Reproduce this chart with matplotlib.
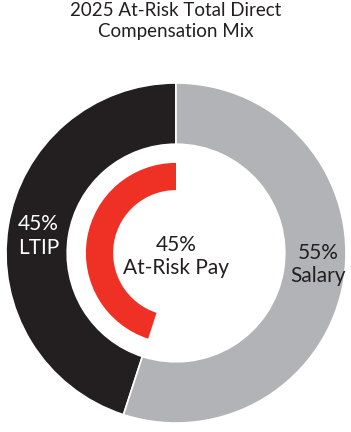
import matplotlib
matplotlib.use('Agg')
import matplotlib.pyplot as plt

# Data
outer_labels = ['LTIP', 'Salary']
outer_values = [45, 55]
outer_colors = ['#231F20', '#B1B3B6']
at_risk_value = 45
title = '2025 At-Risk Total Direct\nCompensation Mix'

plt.rcParams['font.family'] = ['Lato', 'DejaVu Sans']

W, H = 351, 432
fig = plt.figure(figsize=(W / 100, H / 100), dpi=100)

# axes placed so the ring is centred around (176, 253) px, radius 170 px
cx, cy, r = 176, 253, 170
ax = fig.add_axes([(cx - r) / W, (H - cy - r) / H, 2 * r / W, 2 * r / H])
ax.set_xlim(-1, 1)
ax.set_ylim(-1, 1)
ax.set_aspect('equal')
ax.axis('off')

ax.pie(outer_values, radius=1.0, startangle=90, counterclock=True,
       colors=outer_colors,
       wedgeprops=dict(width=0.36, edgecolor='white', linewidth=1.2))

ax.pie([at_risk_value, 100 - at_risk_value], radius=0.53, startangle=90,
       counterclock=True, colors=['#EE3124', 'none'],
       wedgeprops=dict(width=0.16, edgecolor='none'))

ax.set_xlim(-1, 1)
ax.set_ylim(-1, 1)

ax.text(-0.81, 0.10, f'{outer_values[0]}%\n{outer_labels[0]}', color='white',
        ha='center', va='center', fontsize=15, linespacing=1.2)
ax.text(0.835, -0.07, f'{outer_values[1]}%\n{outer_labels[1]}', color='#231F20',
        ha='center', va='center', fontsize=15, linespacing=1.2)
ax.text(0.0, -0.02, f'{at_risk_value}%\nAt-Risk Pay', color='#231F20',
        ha='center', va='center', fontsize=15, linespacing=1.2)

fig.text(cx / W, 1 - 2 / H, title, ha='center', va='top', fontsize=13.5,
         color='#231F20', linespacing=1.3)

fig.savefig('out.png', dpi=100)
